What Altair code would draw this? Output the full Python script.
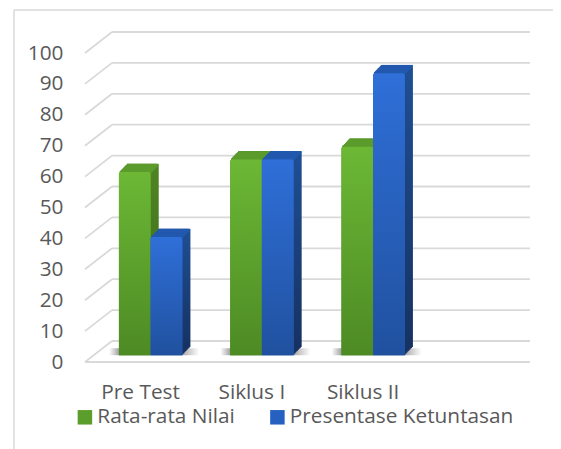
import altair as alt
import pandas as pd

categories = ["Pre Test", "Siklus I", "Siklus II"]
axis_domain = categories + [" "]
series_names = ["Rata-rata Nilai", "Presentase Ketuntasan"]
rata_rata = [59.3, 63.4, 67.5]
presentase = [38.3, 63.4, 91.3]
ticks = list(range(0, 101, 10))

FONT = "Open Sans"
FS = 20.8
TXT = "#595959"
GRID = "#d9d9d9"
W, H = 445, 309
DEPTH_PX = 21 / (H / 100)  # floor depth expressed in value units
BAR = 31.7

palette = {
    series_names[0]: dict(base="#5b9e2c", light="#6cb835", dark="#4d8a24",
                          side1="#4f8423", side2="#3c6a1a", top="#5b9b2c", shift=-BAR / 2),
    series_names[1]: dict(base="#2660c0", light="#2f6fd8", dark="#20519f",
                          side1="#1f4f94", side2="#163262", top="#2259ae", shift=BAR / 2),
}

rows = []
for c, a, b in zip(categories, rata_rata, presentase):
    rows.append({"cat": c, "series": series_names[0], "value": a})
    rows.append({"cat": c, "series": series_names[1], "value": b})
df = pd.DataFrame(rows)
grid = pd.DataFrame({"value": ticks})
df_cat = pd.DataFrame({"cat": categories, "low": [0] * 3, "high": [2.3] * 3})

xs = alt.Scale(domain=axis_domain, paddingInner=0.43, paddingOuter=0.215)
ys = alt.Scale(domain=[0, 100], nice=False)


def vgrad(a, b):
    return alt.Gradient(gradient="linear", x1=0, x2=0, y1=0, y2=1,
                        stops=[alt.GradientStop(color=a, offset=0),
                               alt.GradientStop(color=b, offset=1)])


x_axis = alt.Axis(title=None, domain=False, ticks=False, grid=False,
                  labelFont=FONT, labelFontSize=FS, labelColor=TXT,
                  labelAngle=0, labelPadding=20.5, values=categories)
y_axis = alt.Axis(title=None, domain=False, ticks=False, grid=False,
                  values=ticks, labelFont=FONT, labelFontSize=FS,
                  labelColor=TXT, labelPadding=22)
X0 = alt.X("cat:N", scale=xs, sort=axis_domain, axis=x_axis)
Yv = alt.Y("value:Q", scale=ys, axis=y_axis)

layers = []

# frame of the picture
layers.append(alt.Chart(grid.head(1)).mark_rule(color=GRID, strokeWidth=1.5).encode(
    x=alt.value(-71), x2=alt.value(476), y=alt.value(-43)))
layers.append(alt.Chart(grid.head(1)).mark_rule(color=GRID, strokeWidth=1.5).encode(
    x=alt.value(-71), y=alt.value(-43), y2=alt.value(396)))

# walls and floor
layers.append(alt.Chart(grid).transform_calculate(back=f"datum.value + {DEPTH_PX}").mark_rule(
    color=GRID, strokeWidth=1.8).encode(
    x=alt.value(0), x2=alt.value(27), y=Yv, y2="back:Q"))
layers.append(alt.Chart(grid).mark_rule(color=GRID, strokeWidth=1.8, yOffset=-21).encode(
    x=alt.value(27), x2=alt.value(W), y=Yv))
layers.append(alt.Chart(grid[grid.value == 0]).mark_rule(color=GRID, strokeWidth=1.8).encode(
    x=alt.value(0), x2=alt.value(W), y=Yv))

# floor shadow
shadow = alt.Gradient(gradient="linear", x1=0, x2=1, y1=0, y2=0, stops=[
    alt.GradientStop(color="rgba(70,70,70,0)", offset=0),
    alt.GradientStop(color="rgba(70,70,70,0.55)", offset=0.12),
    alt.GradientStop(color="rgba(70,70,70,0.55)", offset=0.78),
    alt.GradientStop(color="rgba(70,70,70,0)", offset=1)])
layers.append(alt.Chart(df_cat).mark_bar(color=shadow, size=90, xOffset=13.5,
                                         yOffset=-6.7, y2Offset=-6.7).encode(
    x=X0, y=alt.Y("high:Q", scale=ys, axis=y_axis), y2="low:Q"))

for name in series_names:
    p = palette[name]
    d = df[df.series == name]
    base = alt.Chart(d).transform_calculate(v0="0", edge="datum.value - 0.6")
    # extruded side
    for i in range(1, 10):
        dy = -6.7 - i * 0.92
        layers.append(base.mark_bar(
            color=vgrad(p["side1"], p["side2"]), size=BAR,
            xOffset=10 + p["shift"] + i * 0.9, yOffset=dy, y2Offset=dy,
            cornerRadiusTopRight=2).encode(x=X0, y=Yv, y2="v0:Q"))
    # top face
    for i in range(1, 10):
        dy = -6.7 - i * 0.92
        layers.append(base.mark_bar(
            color=p["top"], size=BAR,
            xOffset=10 + p["shift"] + i * 0.9, yOffset=dy, y2Offset=dy).encode(
            x=X0, y=Yv, y2="edge:Q"))
    # front face: coloured by series, carries the legend
    layers.append(base.mark_bar(
        size=BAR, xOffset=10 + p["shift"], yOffset=-6.7, y2Offset=-6.7,
        cornerRadiusTopLeft=2, cornerRadiusTopRight=2).encode(
        x=X0, y=Yv, y2="v0:Q",
        color=alt.Color("series:N",
                        scale=alt.Scale(domain=series_names,
                                        range=[palette[s]["base"] for s in series_names]),
                        legend=alt.Legend(title=None, orient="none", legendX=-10.5, legendY=353.5,
                                          direction="horizontal", columns=2, symbolType="square",
                                          symbolSize=210, symbolStrokeWidth=0, labelFont=FONT,
                                          labelFontSize=FS, labelColor=TXT, labelOffset=2,
                                          labelLimit=400, columnPadding=31.5))))
    # front face shading
    layers.append(base.mark_bar(
        color=vgrad(p["light"], p["dark"]), size=BAR,
        xOffset=10 + p["shift"], yOffset=-6.7, y2Offset=-6.7,
        cornerRadiusTopLeft=2, cornerRadiusTopRight=2).encode(
        x=X0, y=Yv, y2="v0:Q"))

chart = alt.layer(*layers).resolve_scale(color="shared").properties(
    width=W, height=H,
    padding={"left": 77, "top": 45, "right": 23, "bottom": 87},
    autosize=alt.AutoSizeParams(type="none"),
    background="white",
).configure_view(stroke=None)

chart.save("out.html", embed_options={"renderer": "svg", "actions": False})
